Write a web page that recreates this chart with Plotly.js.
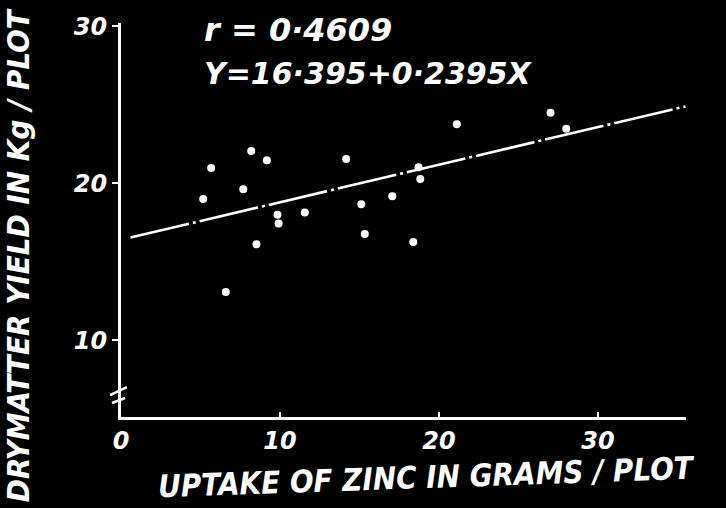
<!DOCTYPE html>
<html>
<head>
<meta charset="utf-8">
<script src="https://cdn.plot.ly/plotly-3.0.1.min.js"></script>
<style>html,body{margin:0;padding:0;background:#000;}#chart{width:726px;height:508px;}</style>
</head>
<body>
<div id="chart"></div>
<script>
// Data
const zincUptake = [8.19, 9.17, 5.67, 14.16, 7.69, 5.17, 15.11, 17.06, 9.84, 9.91,
                    11.56, 15.33, 8.52, 6.59, 27.01, 21.12, 28.0, 18.71, 18.82, 18.38];
const dryYield   = [22.06, 21.46, 20.97, 21.55, 19.62, 19.0, 18.66, 19.17, 18.0, 17.43,
                    18.13, 16.77, 16.11, 13.08, 24.5, 23.76, 23.48, 21.02, 20.27, 16.26];
const fitIntercept = 16.395;
const fitSlope = 0.2395;
const fitRange = [0.6, 35.5];
const xTickVals = [0, 10, 20, 30];
const xTickText = ['0', '10', '20', '30'];
const yTickVals = [10, 20, 30];
const yTickText = ['10', '20', '30'];
const rText = 'r = 0·4609';
const eqText = 'Y=16·395+0·2395X';
const xTitle = 'UPTAKE OF ZINC IN GRAMS / PLOT';
const yTitle = 'DRYMATTER YIELD IN Kg / PLOT';

const fitY = fitRange.map(x => fitIntercept + fitSlope * x);

const handFont = 'Liberation Sans Narrow, DejaVu Sans Condensed, sans-serif';
const numFont = 'DejaVu Sans, sans-serif';

const traces = [
  {
    x: fitRange, y: fitY, mode: 'lines', type: 'scatter',
    line: {color: '#fff', width: 2.6, dash: '60px,4px,3px,4px'},
    hoverinfo: 'skip'
  },
  {
    x: zincUptake, y: dryYield, mode: 'markers', type: 'scatter',
    marker: {color: '#fff', size: 8},
    hoverinfo: 'x+y'
  }
];

const layout = {
  width: 726, height: 508,
  paper_bgcolor: '#000', plot_bgcolor: '#000',
  margin: {l: 121, r: 40, t: 23, b: 91},
  showlegend: false,
  xaxis: {
    range: [0, 35.53], showgrid: false, zeroline: false,
    showline: true, linecolor: '#fff', linewidth: 3,
    tickvals: xTickVals, ticktext: xTickText,
    ticks: 'inside', ticklen: 5, tickwidth: 2, tickcolor: '#fff',
    tickfont: {family: numFont, size: 24, color: '#fff', style: 'italic', weight: 'bold'}
  },
  yaxis: {
    range: [5.11, 30.21], showgrid: false, zeroline: false,
    showline: true, linecolor: '#fff', linewidth: 3,
    tickvals: yTickVals, ticktext: yTickText,
    ticks: 'outside', ticklen: 6, tickwidth: 2, tickcolor: '#fff',
    tickfont: {family: numFont, size: 24, color: '#fff', style: 'italic', weight: 'bold'}
  },
  shapes: [
    {type: 'line', xref: 'paper', yref: 'paper', x0: -0.0195, y0: 0.0558, x1: 0.0106, y1: 0.0761,
     line: {color: '#fff', width: 2.5}},
    {type: 'line', xref: 'paper', yref: 'paper', x0: -0.0159, y0: 0.0355, x1: 0.0071, y1: 0.0482,
     line: {color: '#fff', width: 2.5}}
  ],
  annotations: [
    {text: rText, xref: 'paper', yref: 'paper', x: 0.143, y: 0.982, xanchor: 'left', yanchor: 'middle',
     showarrow: false, font: {family: numFont, size: 32, color: '#fff', style: 'italic', weight: 'bold'}},
    {text: eqText, xref: 'paper', yref: 'paper', x: 0.143, y: 0.871, xanchor: 'left', yanchor: 'middle',
     showarrow: false, font: {family: numFont, size: 30, color: '#fff', style: 'italic', weight: 'bold'}},
    {text: xTitle, xref: 'paper', yref: 'paper', x: 0.54, y: -0.152, xanchor: 'center', yanchor: 'middle',
     textangle: -2, showarrow: false, font: {family: handFont, size: 31, color: '#fff', style: 'italic', weight: 'bold'}},
    {text: yTitle, xref: 'paper', yref: 'paper', x: -0.182, y: 0.411, xanchor: 'center', yanchor: 'middle',
     textangle: -90, showarrow: false, font: {family: handFont, size: 31, color: '#fff', style: 'italic', weight: 'bold'}}
  ]
};

Plotly.newPlot('chart', traces, layout, {displayModeBar: false, staticPlot: true});
</script>
</body>
</html>
